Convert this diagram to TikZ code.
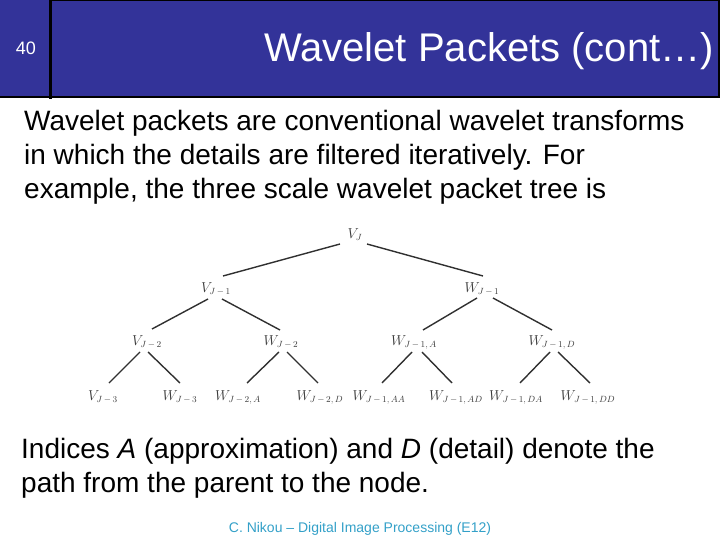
\documentclass[tikz,border=0pt]{standalone}
\usepackage{fontspec}
\setmainfont{Liberation Sans}
\definecolor{hdrblue}{RGB}{51,51,153}
\definecolor{foot}{RGB}{51,160,200}
\definecolor{treeink}{RGB}{60,60,60}
\newcommand\mn{\,{-}\,}
\newcommand\tedge[6]{\draw[treeline] ([xshift=#2pt,yshift=#3pt]#1.base) -- ([xshift=#5pt,yshift=#6pt]#4.base);}
\begin{document}
\begin{tikzpicture}[x=1pt,y=-1pt,
  body/.style={anchor=base west,inner sep=0pt,font=\fontsize{28}{34}\selectfont},
  tlabel/.style={anchor=base,inner sep=0pt,text=treeink,font=\fontsize{13.5}{15}\selectfont},
  treeline/.style={draw=treeink!80!black,line width=1.4pt}]
\useasboundingbox (0,0) rectangle (720,540);
% header
\fill[hdrblue] (0,0) rectangle (720,97);
\draw[black,line width=1pt] (51,0.5) -- (720,0.5);
\draw[black,line width=2pt] (719,0) -- (719,98);
\draw[black,line width=3pt] (50,0) -- (50,99);
\draw[black,line width=2.5pt] (0,97) -- (720,97);
\node[anchor=base,inner sep=0pt,text=white,font=\fontsize{18}{20}\selectfont] (num) at (26,55) {40};
\node[anchor=base east,inner sep=0pt,text=white,font=\fontsize{40}{44}\selectfont] (title) at (714,62) {Wavelet Packets (cont…)};
% body text
\node[body] (p1) at (24,131) {Wavelet packets are conventional wavelet transforms};
\node[body] (p2) at (24,165) {in which the details are filtered iteratively. For};
\node[body] (p3) at (24,199) {example, the three scale wavelet packet tree is};
\node[body] (q1) at (21,458) {Indices \textit{A} (approximation) and \textit{D} (detail) denote the};
\node[body] (q2) at (21,492) {path from the parent to the node.};
\node[anchor=base,inner sep=0pt,text=foot,font=\fontsize{14}{16}\selectfont] (foot) at (360,532) {C. Nikou – Digital Image Processing (E12)};
% tree
\node[tlabel] (vj) at (355,238) {$V_J$};
\node[tlabel] (vj1) at (216,292) {$V_{J\mn1}$};
\node[tlabel] (wj1) at (482,292) {$W_{J\mn1}$};
\node[tlabel] (vj2) at (147,345) {$V_{J\mn2}$};
\node[tlabel] (wj2) at (281,345) {$W_{J\mn2}$};
\node[tlabel] (wj1a) at (414,345) {$W_{J\mn1,\,A}$};
\node[tlabel] (wj1d) at (552,345) {$W_{J\mn1,\,D}$};
\node[tlabel] (vj3) at (103,400) {$V_{J\mn3}$};
\node[tlabel] (wj3) at (180,400) {$W_{J\mn3}$};
\node[tlabel] (wj2a) at (238,400) {$W_{J\mn2,\,A}$};
\node[tlabel] (wj2d) at (320,400) {$W_{J\mn2,\,D}$};
\node[tlabel] (wj1aa) at (379,400) {$W_{J\mn1,\,AA}$};
\node[tlabel] (wj1ad) at (456,400) {$W_{J\mn1,\,AD}$};
\node[tlabel] (wj1da) at (516,400) {$W_{J\mn1,\,DA}$};
\node[tlabel] (wj1dd) at (588,400) {$W_{J\mn1,\,DD}$};
\tedge{vj}{-15}{-6}{vj1}{7}{16}
\tedge{vj}{12}{-6}{wj1}{1}{16}
\tedge{vj1}{-8}{-7}{vj2}{5}{16}
\tedge{vj1}{6}{-7}{wj2}{-1}{15}
\tedge{wj1}{-5}{-6}{wj1a}{9}{15}
\tedge{wj1}{11}{-6}{wj1d}{0}{15}
\tedge{vj2}{-7}{-7}{vj3}{6}{17}
\tedge{vj2}{1}{-7}{wj3}{0}{17}
\tedge{wj2}{-2}{-7}{wj2a}{9}{17}
\tedge{wj2}{6}{-7}{wj2d}{-2}{17}
\tedge{wj1a}{-2}{-7}{wj1aa}{3}{17}
\tedge{wj1a}{8}{-7}{wj1ad}{-4}{17}
\tedge{wj1d}{-2}{-7}{wj1da}{4}{17}
\tedge{wj1d}{6}{-7}{wj1dd}{2}{17}
\end{tikzpicture}
\end{document}
